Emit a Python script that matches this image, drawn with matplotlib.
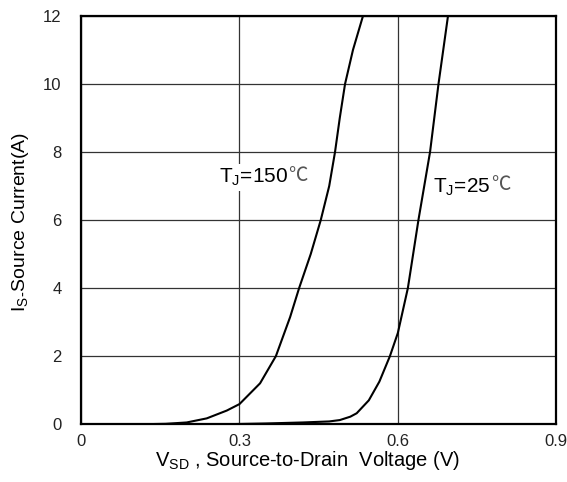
import matplotlib.pyplot as plt

plt.rcParams['font.family'] = ['Liberation Sans', 'Noto Sans CJK SC', 'DejaVu Sans']

# Tj = 150 C curve
v_150 = [0.125, 0.16, 0.20, 0.238, 0.276, 0.30, 0.339, 0.369, 0.396, 0.413, 0.435, 0.454, 0.470, 0.481, 0.490, 0.500, 0.515, 0.534]
i_150 = [0.0, 0.01, 0.05, 0.17, 0.40, 0.59, 1.2, 2.0, 3.15, 4.0, 5.0, 6.0, 7.0, 8.0, 9.0, 10.0, 11.0, 12.0]

# Tj = 25 C curve
v_25 = [0.28, 0.35, 0.42, 0.47, 0.49, 0.51, 0.522, 0.545, 0.565, 0.585, 0.60, 0.619, 0.639, 0.650, 0.661, 0.677, 0.695]
i_25 = [0.0, 0.02, 0.05, 0.08, 0.12, 0.22, 0.32, 0.7, 1.25, 2.0, 2.68, 4.0, 6.0, 7.0, 8.0, 10.0, 12.0]

fig = plt.figure(figsize=(5.67, 4.82), dpi=100)
ax = fig.add_axes([0.143, 0.120, 0.838, 0.847])

ax.plot(v_150, i_150, color='black', linewidth=1.5, zorder=3)
ax.plot(v_25, i_25, color='black', linewidth=1.5, zorder=3)

ax.set_xlim(0, 0.9)
ax.set_ylim(0, 12)
ax.set_xticks([0, 0.3, 0.6, 0.9])
ax.set_xticklabels(['0', '0.3', '0.6', '0.9'])
ax.set_yticks([0, 2, 4, 6, 8, 10, 12])
ax.tick_params(length=0, labelsize=12, colors='#222222')
ax.tick_params(axis='x', pad=7)
ax.tick_params(axis='y', pad=14)

ax.grid(True, color='#333333', linewidth=0.9)
ax.set_axisbelow(True)
for s in ax.spines.values():
    s.set_linewidth(1.6)
    s.set_color('black')

# curve labels, the degree sign comes from a CJK font
t1 = ax.text(0.262, 7.26, 'T$_\\mathregular{J}$=150', fontsize=15, ha='left', va='center',
             bbox=dict(facecolor='white', edgecolor='none', pad=2), zorder=4)
ax.annotate('\u2103', xy=(1, 0.6), xycoords=t1, fontsize=14, ha='left', va='center',
            fontfamily='Noto Sans CJK SC', color='#555555', zorder=4)
t2 = ax.text(0.667, 6.97, 'T$_\\mathregular{J}$=25', fontsize=15, ha='left', va='center',
             bbox=dict(facecolor='white', edgecolor='none', pad=1), zorder=4)
ax.annotate('\u2103', xy=(1, 0.6), xycoords=t2, fontsize=14, ha='left', va='center',
            fontfamily='Noto Sans CJK SC', color='#555555', zorder=4)

ax.set_xlabel('V$_\\mathregular{SD}$ , Source-to-Drain  Voltage (V)', fontsize=14.5)
ax.xaxis.set_label_coords(0.476, -0.06)
ax.set_ylabel('I$_\\mathregular{S}$$_\\mathregular{\\text{-}}$Source Current(A)', fontsize=14)
ax.yaxis.set_label_coords(-0.105, 0.495)

fig.savefig('out.png', dpi=100)
